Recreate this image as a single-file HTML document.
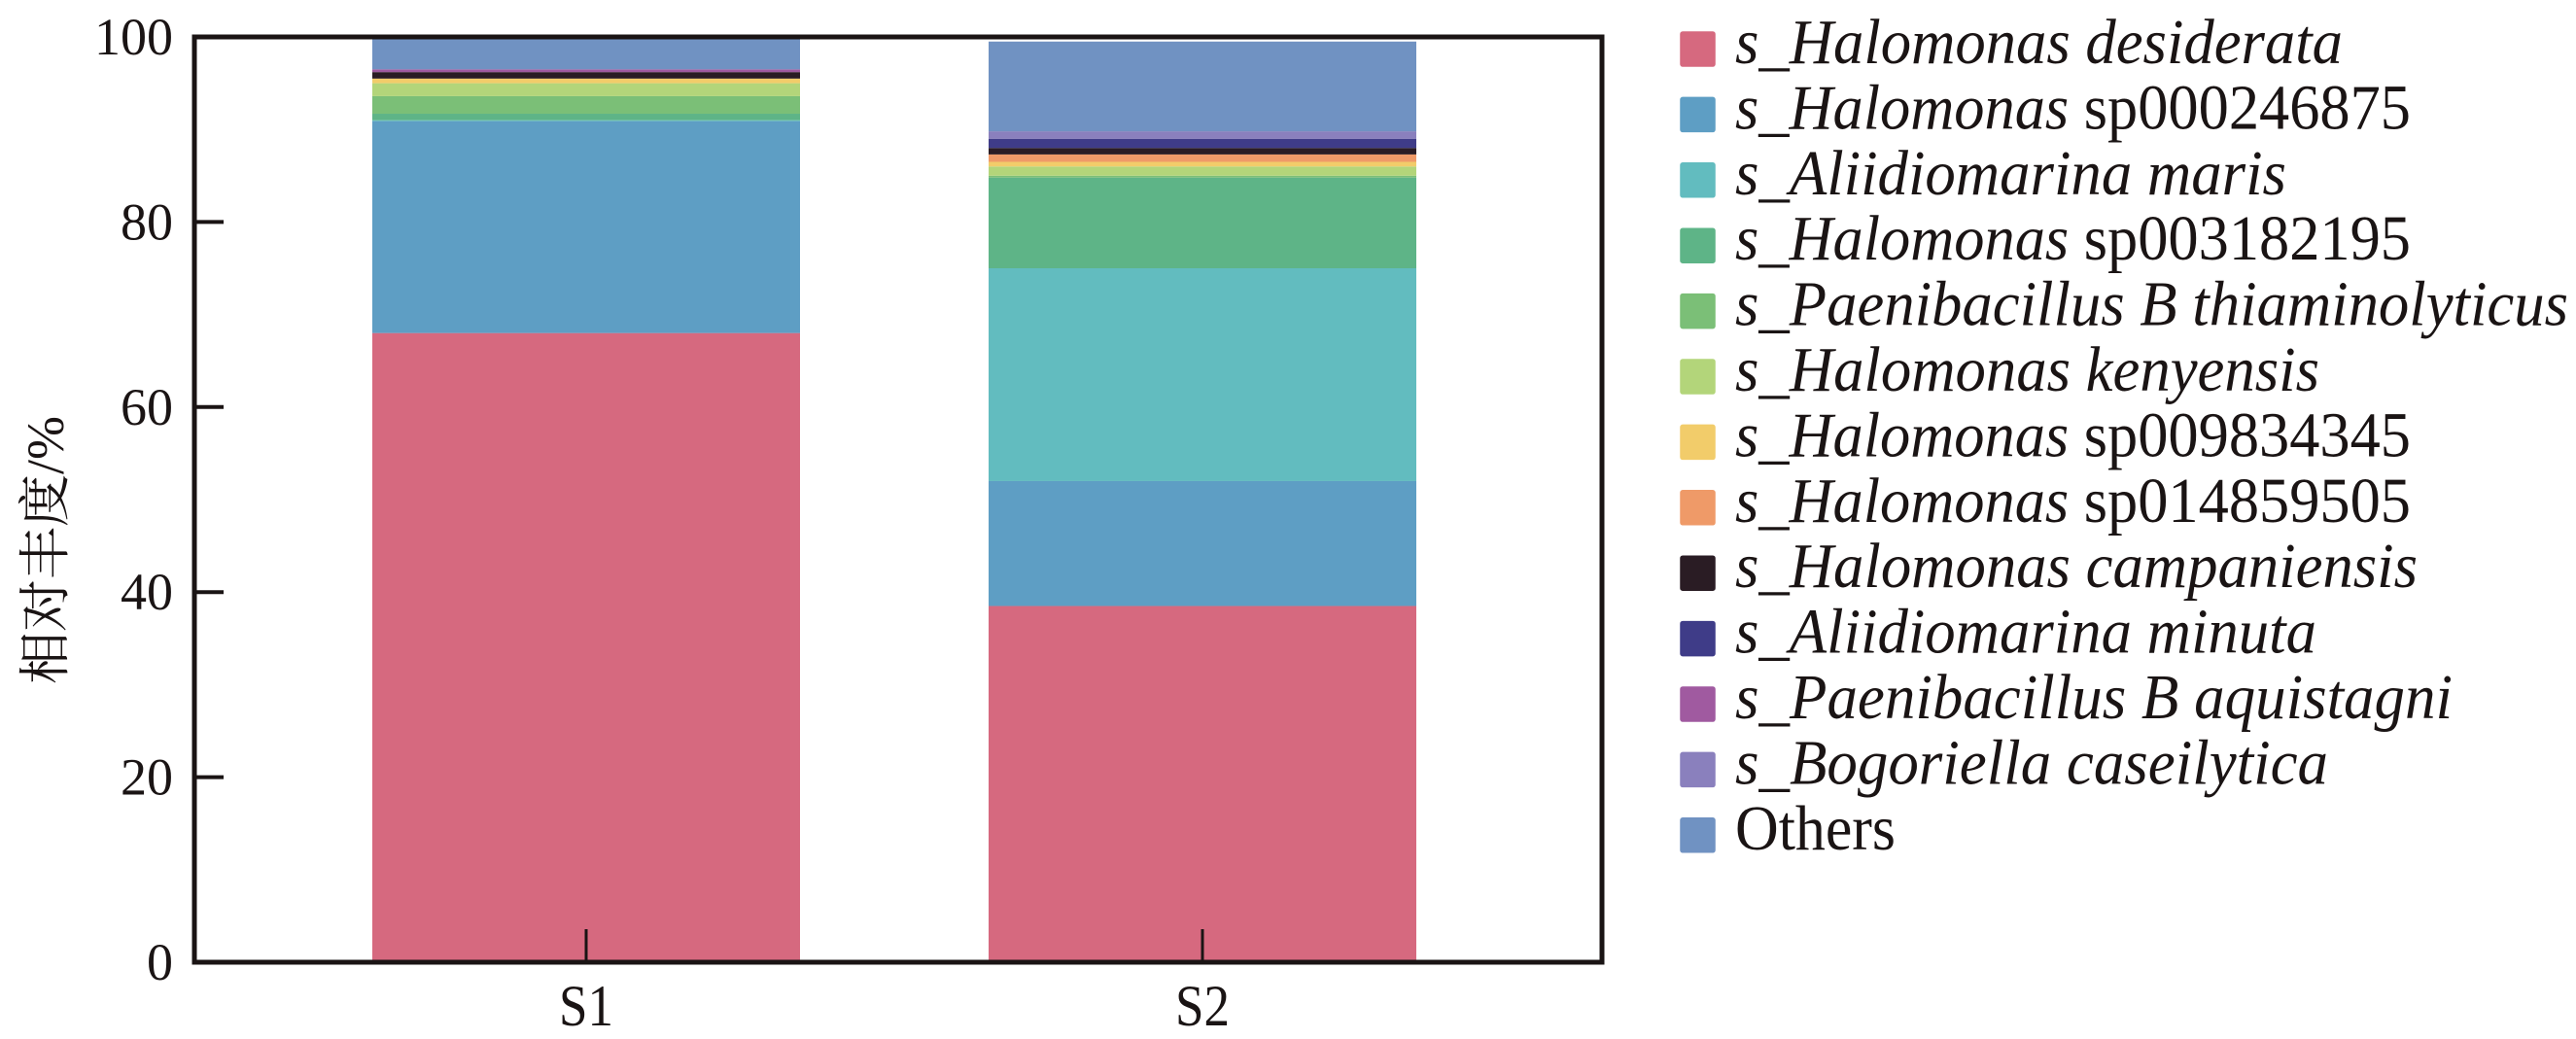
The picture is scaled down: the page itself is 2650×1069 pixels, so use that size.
<!DOCTYPE html>
<html><head><meta charset="utf-8"><style>html,body{margin:0;padding:0;background:#fff;}svg{display:block;}</style></head>
<body>
<svg id="chart" width="2650" height="1069" viewBox="0 0 2650 1069" xmlns="http://www.w3.org/2000/svg">
<g id="bars"></g>
<g id="axes"></g>
<g id="legend"></g>
</svg>
<script>
const categories = ["S1", "S2"];
const speciesItalic = ["Halomonas desiderata","Halomonas","Aliidiomarina maris","Halomonas","Paenibacillus B thiaminolyticus","Halomonas kenyensis","Halomonas","Halomonas","Halomonas campaniensis","Aliidiomarina minuta","Paenibacillus B aquistagni","Bogoriella caseilytica",""];
const speciesSuffix = [""," sp000246875",""," sp003182195","",""," sp009834345"," sp014859505","","","","","Others"];
const s1Values = [68.0, 22.9, 0.1, 0.7, 1.9, 1.4, 0.5, 0.0, 0.7, 0.0, 0.3, 0.0, 3.4];
const s2Values = [38.5, 13.5, 23.0, 9.8, 0.2, 1.0, 0.5, 0.8, 0.7, 1.0, 0.0, 0.8, 9.7];
const yTicks = [0, 20, 40, 60, 80, 100];
const colors = ["#d6697f","#5e9ec4","#62bcbf","#5eb487","#7bbf77","#b3d57a","#f2cc6a","#ef9a68","#2a1c24","#3f3c88","#a05aa0","#8a80bd","#7092c2"];
const legendWidths = [625,695,567,695,857,601,695,695,702,598,738,610,165];

const NS = "http://www.w3.org/2000/svg";
const plot = {left:200, right:1648, top:38, bottom:990};
const yScale = v => plot.bottom - (v/100)*(plot.bottom-plot.top);
const xCenter = i => [603, 1237][i];
const barW = 440;
function mk(tag, attrs, parent){const e=document.createElementNS(NS,tag);for(const k in attrs)e.setAttribute(k,attrs[k]);parent.appendChild(e);return e;}

const barsG = document.getElementById('bars');
[s1Values, s2Values].forEach((vals, ci) => {
  let cum = 0;
  vals.forEach((v, si) => {
    if (v <= 0) return;
    const r = mk('rect', {x:xCenter(ci)-barW/2, y:yScale(cum+v), width:barW, height:yScale(cum)-yScale(cum+v), fill:colors[si]}, barsG);
    
    
    cum += v;
  });
});

const ax = document.getElementById('axes');
const frame = mk('rect', {x:plot.left, y:plot.top, width:plot.right-plot.left, height:plot.bottom-plot.top, fill:'none', stroke:'#1a1414', 'stroke-width':5}, ax);


yTicks.forEach(t => {
  const y = yScale(t);
  if (t > 0 && t < 100) {
    const tl = mk('line', {x1:plot.left, x2:plot.left+30, y1:y, y2:y, stroke:'#1a1414', 'stroke-width':4}, ax);
    
    
  }
  const lb = mk('text', {x:178, y:y+18, 'text-anchor':'end', 'font-family':'Liberation Serif, serif', 'font-size':54, fill:'#1a1414'}, ax);
  lb.textContent = t;
  
  
});
categories.forEach((c, i) => {
  const x = xCenter(i);
  const tk = mk('line', {x1:x, x2:x, y1:plot.bottom, y2:plot.bottom-34, stroke:'#1a1414', 'stroke-width':3}, ax);
  
  
  const lb = mk('text', {x:x, y:1055, 'text-anchor':'middle', 'font-family':'Liberation Serif, serif', 'font-size':60, textLength:56, lengthAdjust:'spacingAndGlyphs', fill:'#1a1414'}, ax);
  lb.textContent = c;
  
  
});
const yt = mk('text', {x:0, y:0, transform:'translate(65,566) rotate(-90)', 'text-anchor':'middle', 'font-family':'Liberation Serif, Noto Serif CJK SC, serif', 'font-size':54, fill:'#1a1414'}, ax);
yt.textContent = '相对丰度/%';



const lg = document.getElementById('legend');
colors.forEach((col, i) => {
  const top = 33 + i*67.4;
  const sw = mk('rect', {x:1729, y:top, width:35, height:35, fill:col, stroke:col, 'stroke-width':1.5, rx:2}, lg);
  
  
  const tx = mk('text', {x:1785, y:top+32, 'font-family':'Liberation Serif, serif', 'font-size':66, fill:'#1a1414', textLength:legendWidths[i], lengthAdjust:'spacingAndGlyphs'}, lg);
  
  
  if (speciesItalic[i] !== "") {
    const t1 = mk('tspan', {'font-style':'italic'}, tx);
    t1.textContent = 's_' + speciesItalic[i];
  }
  if (speciesSuffix[i] !== "") {
    const t2 = mk('tspan', {}, tx);
    t2.textContent = speciesSuffix[i];
  }
});
</script>
</body></html>
